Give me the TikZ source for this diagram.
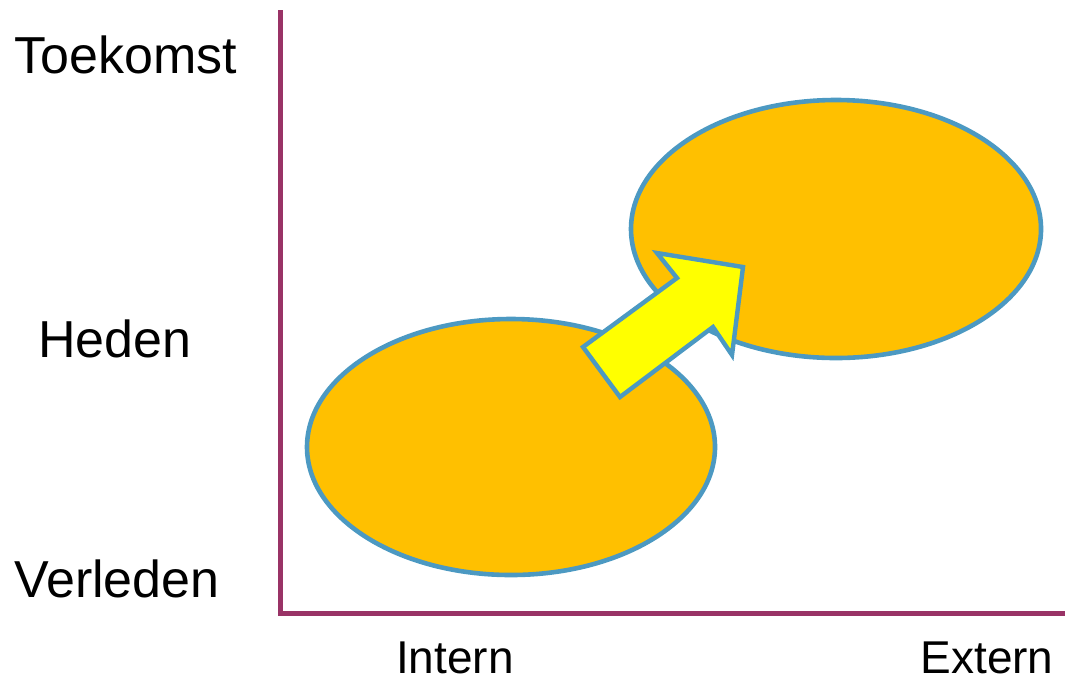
\documentclass[tikz,border=0pt]{standalone}
\usepackage{fontspec}
\setmainfont{Liberation Sans}
\usetikzlibrary{shapes.geometric,positioning}
\definecolor{axispurple}{HTML}{993366}
\definecolor{blobfill}{HTML}{FFC000}
\definecolor{blobline}{HTML}{4C99C2}
\definecolor{arrowfill}{HTML}{FFFF00}
\tikzset{
  lbl/.style={anchor=base,inner sep=0pt,font=\fontsize{26}{30}\selectfont},
  xlbl/.style={lbl,font=\fontsize{23}{27}\selectfont},
  blob/.style={ellipse,draw=blobline,fill=blobfill,line width=2.3pt,inner sep=0pt},
}
\begin{document}
\begin{tikzpicture}[x=0.5pt,y=-0.5pt]
\useasboundingbox (0,0) rectangle (1069,682);
\coordinate (top) at (280,10);
\coordinate (origin) at (280,613);
\coordinate (right) at (1065,613);
\draw[axispurple,line width=2.5pt] (top) -- (origin) -- (right);
\node[lbl] (toekomst) at (126,73) {Toekomst};
\node[lbl] (heden) at (115,357) {Heden};
\node[lbl] (verleden) at (117,597) {Verleden};
\node[xlbl] (intern) at (455,673) {Intern};
\node[xlbl] (extern) at (987,673) {Extern};
\node[blob,minimum width=204pt,minimum height=128pt] (past) at (511,447) {};
\node[blob,minimum width=205pt,minimum height=129pt] (future) at (836,229) {};
\draw[blobline,fill=arrowfill,line width=2.2pt,line join=miter]
  (583,347) -- (677,278) -- (657,253) -- (743,267) -- (732,355) -- (713,327) -- (620,397) -- cycle;
\end{tikzpicture}
\end{document}
